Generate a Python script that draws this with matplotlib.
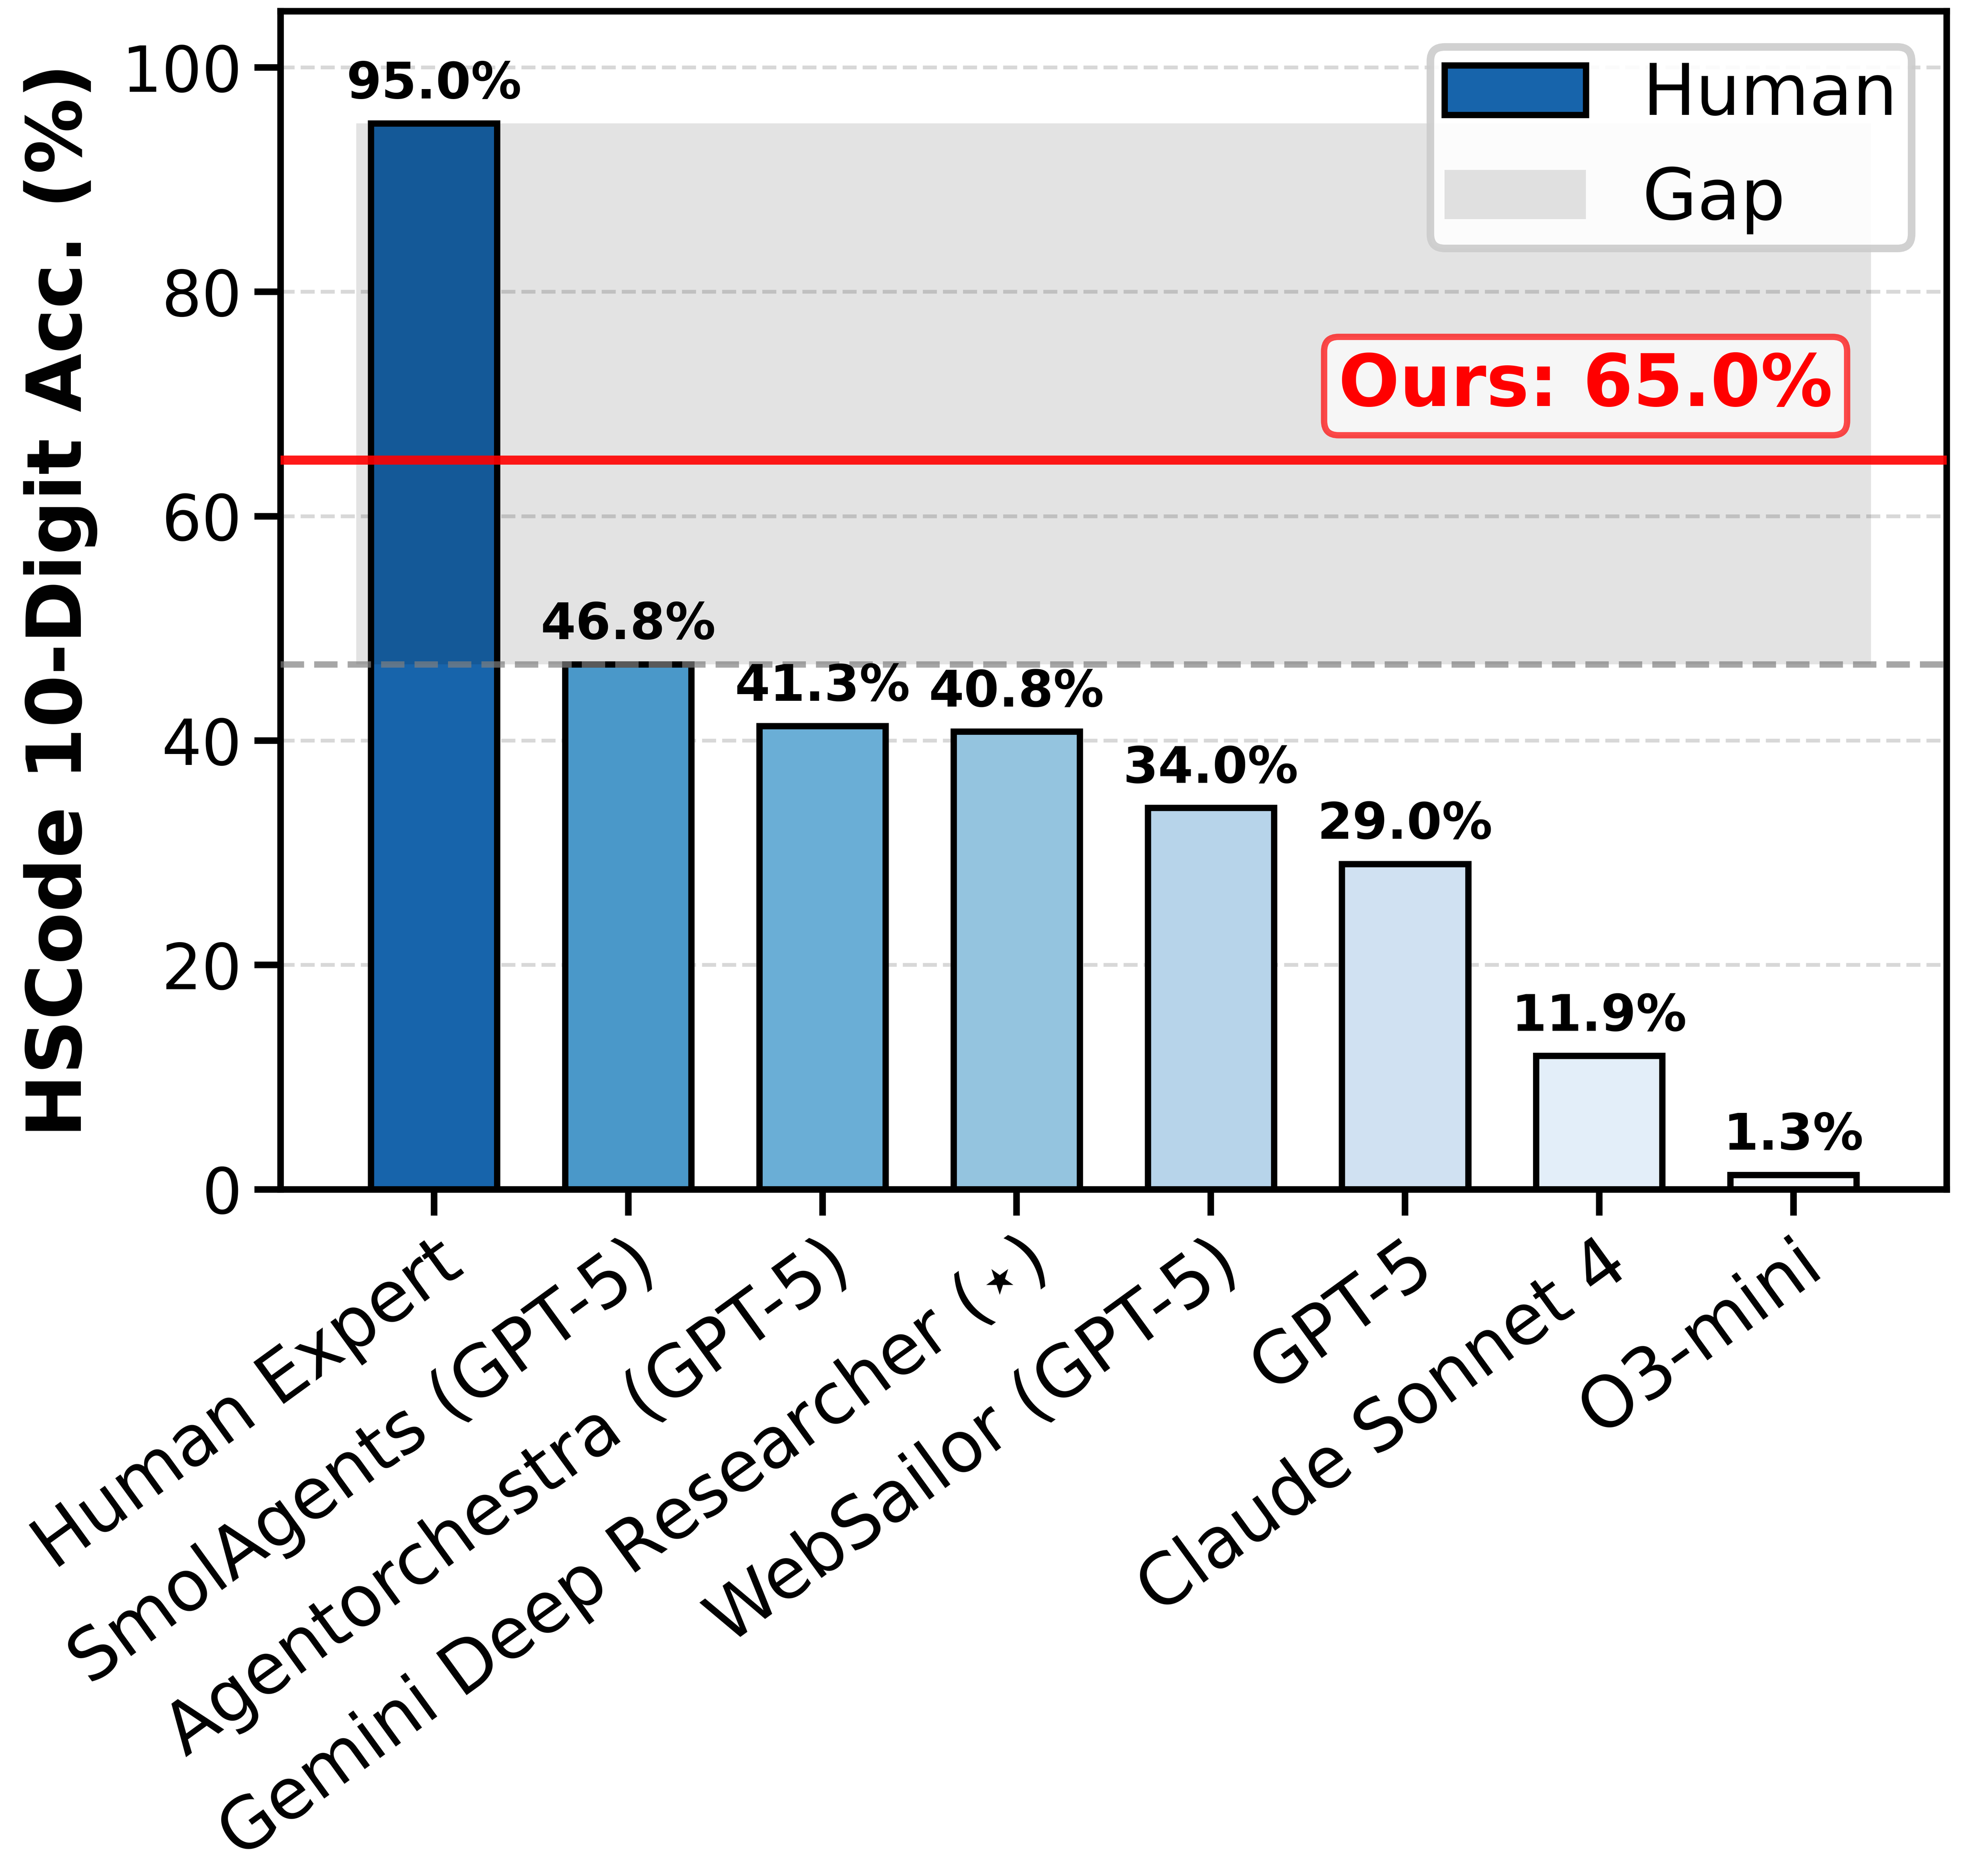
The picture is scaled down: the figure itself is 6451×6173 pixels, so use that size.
import matplotlib
matplotlib.use("Agg")
import matplotlib.pyplot as plt
from matplotlib.patches import Patch

# ---- data ----
models = ["Human Expert", "SmolAgents (GPT-5)", "Agentorchestra (GPT-5)",
          "Gemini Deep Researcher ($\\star$)", "WebSailor (GPT-5)", "GPT-5",
          "Claude Sonnet 4", "O3-mini"]
accuracy = [95.0, 46.8, 41.3, 40.8, 34.0, 29.0, 11.9, 1.3]
bar_colors = ["#1764ab", "#4a98c9", "#6aaed6", "#94c4df", "#b7d4ea",
              "#d0e1f2", "#e3eef9", "#f7fbff"]
ours = 65.0
best_baseline = 46.8
human = 95.0
yticks = [0, 20, 40, 60, 80, 100]

plt.rcParams['font.family'] = ['DejaVu Sans']

fig = plt.figure(figsize=(6473 / 600, 6194 / 600), dpi=598)
ax = fig.add_axes([0.1431, 0.366, 0.9927 - 0.1431, 0.9939 - 0.366])

x = list(range(len(models)))
ax.yaxis.grid(True, linestyle='--', color='gray', alpha=0.3, linewidth=1.5, zorder=0)
ax.set_axisbelow(True)

ax.bar(x, accuracy, width=0.65, color=bar_colors, edgecolor='black',
       linewidth=2.5, zorder=2)

# gap region
ax.fill_between([-0.4, len(models) - 0.6], best_baseline, human,
                color='black', alpha=0.11, linewidth=0, zorder=2.5)

ax.axhline(best_baseline, color='gray', linestyle='--', linewidth=2.5,
           alpha=0.7, zorder=3)
ax.axhline(ours, color='red', linewidth=3.6, alpha=0.9, zorder=3.2)

for xi, v in zip(x, accuracy):
    ax.text(xi, v + 1.3, f"{v:.1f}%", ha='center', va='bottom',
            fontsize=20, fontweight='bold', zorder=5)

ax.text(5.93, 71.6, f"Ours: {ours:.1f}%", ha='center', va='center',
        fontsize=28.5, fontweight='bold', color='red', zorder=6,
        bbox=dict(boxstyle='round,pad=0.2', facecolor='white',
                  edgecolor='red', alpha=0.7, linewidth=2.5))

ax.set_ylim(0, 105)
ax.set_yticks(yticks)
ax.set_xticks(x)
ax.set_xticklabels(models, rotation=36, ha='right', rotation_mode='anchor',
                   fontsize=28)
ax.tick_params(axis='y', labelsize=25)
ax.tick_params(axis='both', length=10.3, width=2.6, pad=5)
ax.set_ylabel("HSCode 10-Digit Acc. (%)", fontsize=30, fontweight='bold',
              labelpad=9.5)

for s in ax.spines.values():
    s.set_linewidth(2.6)
    s.set_color('black')

handles = [Patch(facecolor=bar_colors[0], edgecolor='black', linewidth=2.5),
           Patch(facecolor='black', alpha=0.11, linewidth=0)]
leg = ax.legend(handles, ["Human", "Gap"], loc='upper right', fontsize=28,
                fancybox=True, framealpha=0.9, borderpad=0.2)
leg.get_frame().set_edgecolor('0.8')
leg.get_frame().set_linewidth(3)
leg.set_zorder(10)

fig.savefig("out.png", dpi=598)
